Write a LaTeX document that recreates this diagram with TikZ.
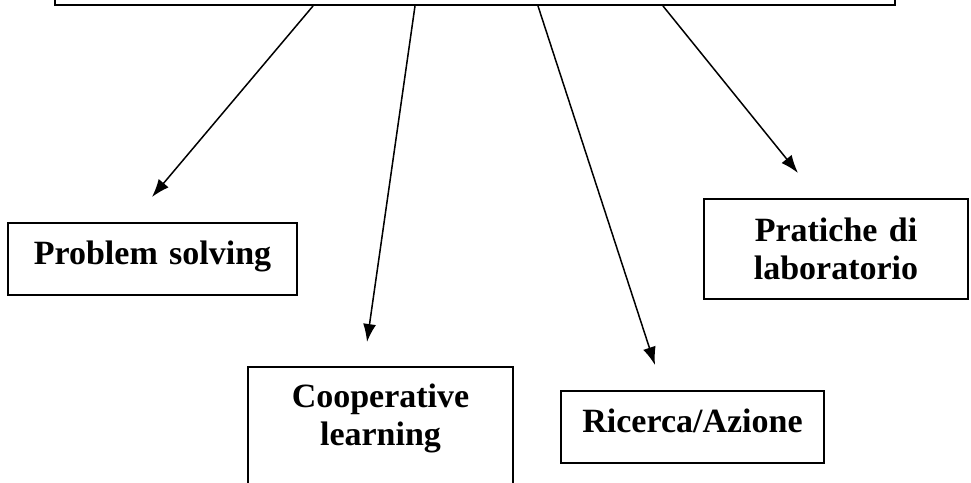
\documentclass[tikz,border=0pt]{standalone}
\usepackage{fontspec}
\setmainfont{Liberation Serif}
\usetikzlibrary{arrows.meta}
\begin{document}
\begin{tikzpicture}[x=1pt,y=-1pt,
  box/.style={draw,line width=2pt,inner sep=0pt,align=center,anchor=north west,
    font=\fontsize{34}{38}\selectfont\bfseries},
  arr/.style={-{Latex[length=18pt,width=13pt]},line width=1.5pt}]
\useasboundingbox (0,0) rectangle (971,482);
\node[draw,line width=2pt,minimum width=840pt,minimum height=60pt,anchor=south](top) at (475,6){};
\node[box,text width=289pt,text height=41pt,text depth=31pt](ps) at (7,222){Problem solving};
\node[box,text width=265pt,text height=40pt,text depth=90pt](cl) at (247,366){Cooperative\\learning};
\node[box,text width=263pt,text height=41pt,text depth=31pt](ra) at (560,390){Ricerca/Azione};
\node[box,text width=264pt,text height=42pt,text depth=58pt](pl) at (703,198){Pratiche di\\laboratorio};
\coordinate (ps-tip) at (152,197);
\coordinate (cl-tip) at (367,342);
\coordinate (ra-tip) at (655,365);
\coordinate (pl-tip) at (798,173);
\draw[arr]([xshift=259pt]top.south west)--(ps-tip);
\draw[arr]([xshift=361pt]top.south west)--(cl-tip);
\draw[arr]([xshift=484pt]top.south west)--(ra-tip);
\draw[arr]([xshift=609pt]top.south west)--(pl-tip);
\end{tikzpicture}
\end{document}
